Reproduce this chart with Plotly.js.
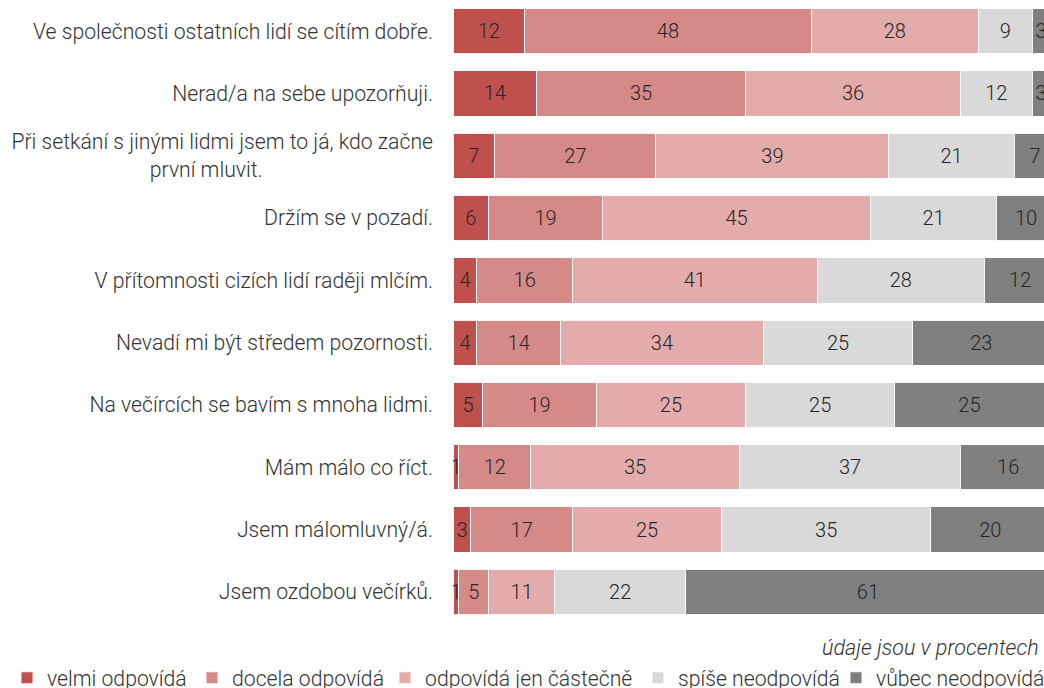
<!DOCTYPE html>
<html>
<head>
<meta charset="utf-8">
<script src="https://cdn.plot.ly/plotly-3.0.1.min.js"></script>
<style>
html,body{margin:0;padding:0;overflow:hidden;background:#fff;}
#chart{width:1120px;height:688px;}
</style>
</head>
<body>
<div id="chart"></div>
<script>
const categories = [
  "Ve společnosti ostatních lidí se cítím dobře.",
  "Nerad/a na sebe upozorňuji.",
  "Při setkání s jinými lidmi jsem to já, kdo začne<br>první mluvit.",
  "Držím se v pozadí.",
  "V přítomnosti cizích lidí raději mlčím.",
  "Nevadí mi být středem pozornosti.",
  "Na večírcích se bavím s mnoha lidmi.",
  "Mám málo co říct.",
  "Jsem málomluvný/á.",
  "Jsem ozdobou večírků."
];
const seriesNames = ["velmi odpovídá", "docela odpovídá", "odpovídá jen částečně", "spíše neodpovídá", "vůbec neodpovídá"];
const velmi    = [12, 14,  7,  6,  4,  4,  5,  1,  3,  1];
const docela   = [48, 35, 27, 19, 16, 14, 19, 12, 17,  5];
const castecne = [28, 36, 39, 45, 41, 34, 25, 35, 25, 11];
const spise    = [ 9, 12, 21, 21, 28, 25, 25, 37, 35, 22];
const vubec    = [ 3,  3,  7, 10, 12, 23, 25, 16, 20, 61];
const colors = ["#C0504D", "#D58A88", "#E3ACAB", "#D9D9D9", "#808080"];
const note = "údaje jsou v procentech";

const seriesValues = [velmi, docela, castecne, spise, vubec];
const fontFamily = "Roboto, 'Open Sans', sans-serif";
// legend entry text widths (px); 0 = natural text width
const legendWidths = [140, 148, 208, 153, 0];

// geometry: plot area starts at 453 px, 5.97 px per percent
const W = 1120, H = 688, L = 453, B = 65;
const pxPerUnit = 5.97;
const xMax = (W - L) / pxPerUnit;

// tick labels: centre the wrapped second line under the first
const NB = "\u00A0";
const tickText = categories.map(c => {
  if (c.indexOf("<br>") >= 0) {
    const parts = c.split("<br>");
    return parts[0] + "<br>" + parts[1] + NB.repeat(33);
  }
  return c;
});

const traces = seriesValues.map((vals, i) => ({
  type: "bar",
  orientation: "h",
  name: seriesNames[i],
  y: categories,
  x: vals,
  text: vals.map(String),
  textposition: "inside",
  insidetextanchor: "middle",
  constraintext: "none",
  textfont: {family: fontFamily, size: 20, color: "#262626", weight: 300},
  marker: {color: colors[i], line: {color: "rgba(255,255,255,0.9)", width: 1}},
  legendwidth: legendWidths[i],
  hoverinfo: "name+x"
}));

const plotW = W - L;
const plotH = H - B;

const layout = {
  width: W,
  height: H,
  margin: {l: L, r: 0, t: 0, b: B, pad: 0, autoexpand: false},
  paper_bgcolor: "#ffffff",
  plot_bgcolor: "#ffffff",
  barmode: "stack",
  bargap: 0.273,
  font: {family: fontFamily, size: 21.2, color: "#333333", weight: 300},
  xaxis: {
    range: [0, xMax],
    showgrid: false, zeroline: false, showline: false,
    showticklabels: false, ticks: "", fixedrange: true
  },
  yaxis: {
    type: "category",
    autorange: "reversed",
    tickmode: "array",
    tickvals: categories,
    ticktext: tickText,
    ticks: "",
    ticklabelstandoff: 19,
    showgrid: false, zeroline: false, showline: false,
    tickfont: {family: fontFamily, size: 21.2, color: "#333333", weight: 300},
    fixedrange: true
  },
  showlegend: true,
  legend: {
    orientation: "h",
    traceorder: "normal",
    xref: "paper", yref: "paper",
    x: (7 - L) / plotW, xanchor: "left",
    y: -55 / plotH, yanchor: "middle",
    font: {family: fontFamily, size: 21.2, color: "#333333", weight: 300},
    itemwidth: 30,
    entrywidthmode: "pixels",
    bgcolor: "rgba(0,0,0,0)"
  },
  annotations: [{
    text: note,
    xref: "paper", yref: "paper",
    x: (1041 - L) / plotW, xanchor: "right",
    y: -24 / plotH, yanchor: "middle",
    showarrow: false,
    font: {family: fontFamily, size: 21.5, color: "#333333", weight: 300, style: "italic"}
  }]
};

Plotly.newPlot("chart", traces, layout, {displayModeBar: false, staticPlot: true});
</script>
</body>
</html>
